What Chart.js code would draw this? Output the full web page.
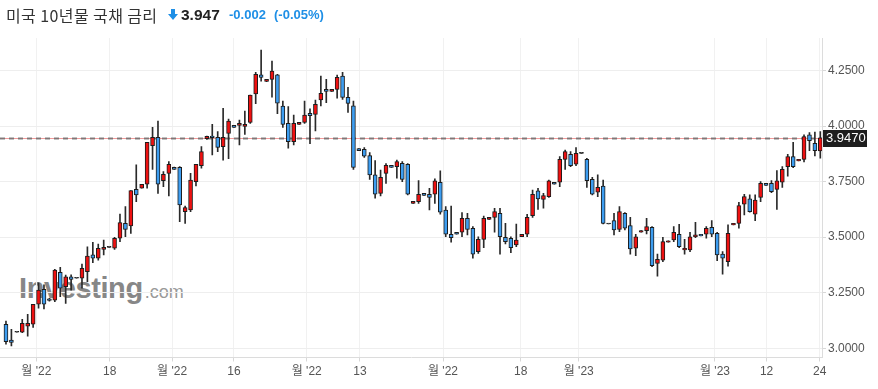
<!DOCTYPE html>
<html>
<head>
<meta charset="utf-8">
<script src="https://cdn.jsdelivr.net/npm/chart.js@4.4.0/dist/chart.umd.min.js"></script>
<style>
  html, body { margin: 0; padding: 0; background: #fff; }
  #wrap { position: relative; width: 878px; height: 389px; overflow: hidden; font-family: "Liberation Sans", Arial, sans-serif; }
  #chart { position: absolute; left: 0; top: 0; z-index: 1; }
  .hdr { position: absolute; top: 5px; line-height: 20px; white-space: nowrap; z-index: 2; }
  #name { left: 6px; font-family: "Noto Sans CJK KR", sans-serif; font-size: 16px; letter-spacing: 0.4px; color: #333; }
  #arrow { left: 168px; top: 9px; }
  #last { left: 181px; font-size: 15.5px; font-weight: bold; color: #222; }
  #chg { left: 229px; font-size: 13px; font-weight: bold; color: #1e8fe6; }
  #pct { left: 274px; font-size: 13px; font-weight: bold; color: #1e8fe6; }
  #wm { position: absolute; left: 19px; top: 274px; line-height: 29px; z-index: 0; white-space: nowrap; color: #878787; }
  #wm b { font-size: 29px; letter-spacing: -0.4px; }
  #wm span { font-size: 18px; color: #999; margin-left: 2px; }
</style>
</head>
<body>
<div id="wrap">
  <div id="wm"><b>Investing</b><span>.com</span></div>
  <canvas id="chart" width="878" height="389"></canvas>
  <div class="hdr" id="name">미국 10년물 국채 금리</div>
  <svg class="hdr" id="arrow" width="10" height="11" viewBox="0 0 10 11"><path d="M3 0h4v5h3l-5 6-5-6h3z" fill="#1e8fe6"/></svg>
  <div class="hdr" id="last">3.947</div>
  <div class="hdr" id="chg">-0.002</div>
  <div class="hdr" id="pct">(-0.05%)</div>
</div>
<script>
// daily candles, oldest first
const openVals = [
  3.108, 3.037, 3.072, 3.072, 3.100, 3.108, 3.198, 3.265, 3.222, 3.217,
  3.342, 3.277, 3.322, 3.315, 3.315, 3.345, 3.420, 3.405, 3.445, 3.454,
  3.450, 3.495, 3.562, 3.550, 3.715, 3.720, 3.738, 3.912, 3.949, 3.754,
  3.787, 3.814, 3.814, 3.615, 3.622, 3.750, 3.822, 3.943, 3.955, 3.949,
  3.907, 3.967, 4.003, 4.003, 3.998, 4.016, 4.144, 4.230, 4.201, 4.210,
  4.230, 4.090, 4.012, 3.930, 4.007, 4.016, 4.057, 4.052, 4.117, 4.165,
  4.156, 4.165, 4.225, 4.129, 4.091, 3.898, 3.895, 3.867, 3.780, 3.697,
  3.787, 3.823, 3.817, 3.832, 3.828, 3.652, 3.660, 3.697, 3.693, 3.693,
  3.747, 3.622, 3.513, 3.522, 3.522, 3.585, 3.540, 3.435, 3.490, 3.580,
  3.589, 3.607, 3.499, 3.495, 3.465, 3.502, 3.513, 3.597, 3.708, 3.670,
  3.682, 3.747, 3.747, 3.850, 3.873, 3.828, 3.877, 3.850, 3.760, 3.702,
  3.730, 3.559, 3.574, 3.535, 3.607, 3.552, 3.450, 3.522, 3.529, 3.544,
  3.382, 3.397, 3.477, 3.487, 3.513, 3.442, 3.442, 3.502, 3.513, 3.513,
  3.544, 3.517, 3.424, 3.390, 3.555, 3.562, 3.648, 3.672, 3.603, 3.679,
  3.742, 3.742, 3.715, 3.747, 3.817, 3.862, 3.843, 3.850, 3.960, 3.922,
  3.888
];
const highVals = [
  3.123, 3.085, 3.072, 3.130, 3.153, 3.198, 3.295, 3.285, 3.225, 3.355,
  3.364, 3.329, 3.330, 3.315, 3.379, 3.457, 3.477, 3.469, 3.487, 3.454,
  3.499, 3.604, 3.637, 3.709, 3.825, 3.738, 3.927, 3.994, 4.022, 3.795,
  3.840, 3.815, 3.817, 3.640, 3.787, 3.828, 3.907, 3.955, 4.007, 3.975,
  4.080, 4.031, 4.003, 4.027, 4.067, 4.139, 4.241, 4.342, 4.210, 4.292,
  4.233, 4.112, 4.087, 4.049, 4.016, 4.112, 4.077, 4.117, 4.225, 4.210,
  4.165, 4.229, 4.241, 4.174, 4.112, 3.898, 3.903, 3.880, 3.844, 3.802,
  3.831, 3.823, 3.847, 3.840, 3.831, 3.661, 3.754, 3.697, 3.720, 3.762,
  3.798, 3.637, 3.640, 3.522, 3.610, 3.607, 3.547, 3.502, 3.595, 3.589,
  3.630, 3.630, 3.562, 3.502, 3.559, 3.513, 3.603, 3.712, 3.720, 3.697,
  3.757, 3.747, 3.862, 3.892, 3.885, 3.903, 3.877, 3.855, 3.769, 3.780,
  3.757, 3.559, 3.607, 3.637, 3.610, 3.589, 3.513, 3.529, 3.585, 3.547,
  3.424, 3.499, 3.484, 3.547, 3.558, 3.490, 3.522, 3.567, 3.513, 3.547,
  3.574, 3.522, 3.435, 3.555, 3.562, 3.657, 3.693, 3.690, 3.690, 3.750,
  3.742, 3.754, 3.799, 3.817, 3.873, 3.927, 3.850, 3.960, 3.970, 3.973,
  3.975
];
const lowVals = [
  3.019, 3.011, 3.072, 3.070, 3.055, 3.094, 3.180, 3.177, 3.212, 3.210,
  3.232, 3.202, 3.262, 3.315, 3.270, 3.300, 3.385, 3.397, 3.420, 3.454,
  3.445, 3.480, 3.502, 3.517, 3.660, 3.720, 3.720, 3.805, 3.697, 3.727,
  3.685, 3.805, 3.570, 3.562, 3.615, 3.730, 3.810, 3.940, 3.870, 3.885,
  3.846, 3.853, 3.994, 3.915, 3.962, 4.012, 4.100, 4.202, 4.200, 4.130,
  4.055, 3.994, 3.900, 3.915, 4.007, 4.012, 3.921, 3.978, 4.090, 4.105,
  4.156, 4.125, 4.120, 4.061, 3.805, 3.889, 3.859, 3.760, 3.675, 3.685,
  3.742, 3.814, 3.765, 3.750, 3.690, 3.652, 3.652, 3.688, 3.622, 3.652,
  3.603, 3.502, 3.477, 3.513, 3.502, 3.510, 3.405, 3.427, 3.453, 3.580,
  3.522, 3.423, 3.469, 3.430, 3.457, 3.502, 3.502, 3.589, 3.625, 3.630,
  3.679, 3.738, 3.727, 3.805, 3.817, 3.822, 3.877, 3.724, 3.690, 3.682,
  3.559, 3.559, 3.510, 3.525, 3.532, 3.424, 3.417, 3.522, 3.514, 3.367,
  3.325, 3.390, 3.477, 3.480, 3.453, 3.423, 3.435, 3.498, 3.505, 3.495,
  3.502, 3.394, 3.334, 3.370, 3.555, 3.540, 3.600, 3.612, 3.574, 3.660,
  3.733, 3.700, 3.625, 3.724, 3.774, 3.813, 3.843, 3.838, 3.889, 3.865,
  3.855
];
const closeVals = [
  3.030, 3.027, 3.072, 3.112, 3.112, 3.198, 3.262, 3.198, 3.215, 3.352,
  3.270, 3.322, 3.310, 3.315, 3.360, 3.415, 3.405, 3.450, 3.454, 3.454,
  3.495, 3.565, 3.535, 3.709, 3.690, 3.738, 3.927, 3.949, 3.738, 3.783,
  3.828, 3.805, 3.645, 3.633, 3.757, 3.828, 3.885, 3.953, 3.948, 3.904,
  3.949, 4.022, 3.994, 4.012, 4.007, 4.139, 4.232, 4.219, 4.210, 4.247,
  4.103, 4.007, 3.930, 4.012, 4.016, 4.049, 4.046, 4.097, 4.147, 4.156,
  4.165, 4.219, 4.129, 4.102, 3.814, 3.889, 3.864, 3.780, 3.693, 3.769,
  3.823, 3.814, 3.840, 3.760, 3.693, 3.661, 3.693, 3.688, 3.679, 3.753,
  3.612, 3.513, 3.498, 3.513, 3.585, 3.535, 3.423, 3.490, 3.585, 3.589,
  3.615, 3.502, 3.480, 3.453, 3.487, 3.513, 3.589, 3.693, 3.672, 3.687,
  3.753, 3.738, 3.850, 3.885, 3.822, 3.877, 3.877, 3.754, 3.693, 3.724,
  3.562, 3.559, 3.532, 3.615, 3.540, 3.447, 3.502, 3.529, 3.547, 3.372,
  3.400, 3.480, 3.484, 3.522, 3.457, 3.450, 3.502, 3.510, 3.505, 3.540,
  3.513, 3.420, 3.405, 3.517, 3.562, 3.642, 3.682, 3.615, 3.667, 3.742,
  3.733, 3.705, 3.753, 3.805, 3.862, 3.817, 3.850, 3.952, 3.934, 3.889,
  3.947
];

// x-axis ticks (candle index) and their labels
const xTickPos = [5.6, 19.1, 30.6, 42, 55.4, 65.2, 80.5, 94.8, 105.5, 130.6, 140.1, 149.9];
const xTickLabels = ["월 '22", '18', "월 '22", '16', "월 '22", '13', "월 '22", '18', "월 '23", "월 '23", '12', '24'];
const yTicks = [3.0, 3.25, 3.5, 3.75, 4.0, 4.25];

const UP = '#ee1111';
const DOWN = '#3d9df0';
const FLAT = '#333';

const bodies = openVals.map((o, i) => ({ x: i, y: [o, closeVals[i]] }));
const wicks = lowVals.map((l, i) => ({ x: i, y: [l, highVals[i]] }));

function candleColor(ctx) {
  const i = ctx.dataIndex;
  if (closeVals[i] > openVals[i]) return UP;
  if (closeVals[i] < openVals[i]) return DOWN;
  return FLAT;
}

const lastPrice = closeVals[closeVals.length - 1];

// dashed last-price line + price tag on the axis
const priceLine = {
  id: 'priceLine',
  beforeDatasetsDraw(chart) {
    const { ctx, chartArea } = chart;
    const y = Math.round(chart.scales.y.getPixelForValue(lastPrice)) + 0.5;
    ctx.save();
    ctx.strokeStyle = '#f19a9a';
    ctx.lineWidth = 1;
    ctx.beginPath();
    ctx.moveTo(chartArea.left, y);
    ctx.lineTo(chartArea.right, y);
    ctx.stroke();
    ctx.strokeStyle = 'rgba(110,110,110,0.85)';
    ctx.lineWidth = 2;
    ctx.setLineDash([5, 4]);
    ctx.beginPath();
    ctx.moveTo(chartArea.left, y);
    ctx.lineTo(chartArea.right, y);
    ctx.stroke();
    ctx.restore();
  },
  afterDraw(chart) {
    const { ctx, chartArea } = chart;
    const y = chart.scales.y.getPixelForValue(lastPrice);
    ctx.save();
    ctx.fillStyle = '#1e1e1e';
    ctx.fillRect(chartArea.right + 1, Math.round(y - 8), 44, 17);
    ctx.fillStyle = '#fff';
    ctx.font = '13px "Liberation Sans", Arial, sans-serif';
    ctx.textBaseline = 'middle';
    ctx.fillText(lastPrice.toFixed(4), chartArea.right + 4, y + 1);
    ctx.restore();
  }
};

new Chart(document.getElementById('chart'), {
  type: 'bar',
  data: {
    datasets: [
      {
        data: bodies,
        backgroundColor: candleColor,
        borderColor: '#1c1c1c',
        borderWidth: 1,
        borderSkipped: false,
        barThickness: 4,
        minBarLength: 1,
        grouped: false
      },
      {
        data: wicks,
        backgroundColor: '#2a2a2a',
        borderWidth: 0,
        barThickness: 1,
        grouped: false
      }
    ]
  },
  options: {
    responsive: false,
    animation: false,
    devicePixelRatio: 1,
    layout: { padding: { top: 38, left: 0, right: 0, bottom: 0 } },
    plugins: {
      legend: { display: false },
      tooltip: { enabled: false }
    },
    scales: {
      x: {
        type: 'linear',
        min: -1.1,
        max: 150.31,
        offset: false,
        grid: { offset: false, color: '#f1f1f1', drawTicks: true, tickLength: 4, tickColor: '#d8d8d8' },
        border: { color: '#dcdcdc' },
        afterBuildTicks: (scale) => { scale.ticks = xTickPos.map(v => ({ value: v })); },
        afterFit: (scale) => { scale.height = 31.5; },
        ticks: {
          autoSkip: false,
          maxRotation: 0,
          padding: 3,
          color: '#555',
          font: { family: '"Liberation Sans", "Noto Sans CJK KR", sans-serif', size: 12 },
          callback: (v) => {
            const k = xTickPos.indexOf(v);
            return k >= 0 ? xTickLabels[k] : '';
          }
        }
      },
      y: {
        position: 'right',
        min: 2.9586,
        max: 4.3959,
        grid: { color: '#eeeeee', drawTicks: true, tickLength: 4, tickColor: '#d8d8d8' },
        border: { color: '#dcdcdc' },
        afterBuildTicks: (scale) => { scale.ticks = yTicks.map(v => ({ value: v })); },
        afterFit: (scale) => { scale.width = 56; },
        ticks: {
          padding: 2,
          color: '#555',
          font: { family: '"Liberation Sans", Arial, sans-serif', size: 12 },
          callback: (v) => Number(v).toFixed(4)
        }
      }
    }
  },
  plugins: [priceLine]
});
</script>
</body>
</html>
